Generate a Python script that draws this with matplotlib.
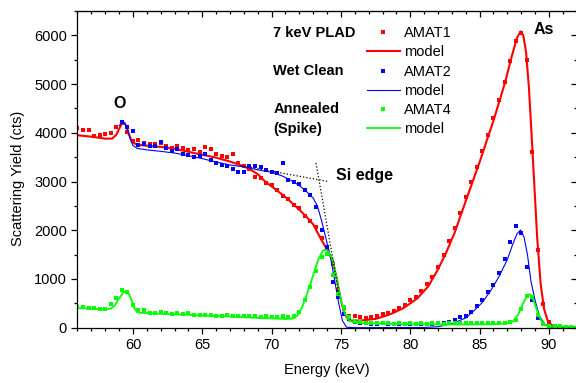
import matplotlib
matplotlib.use("Agg")
import matplotlib.pyplot as plt
from matplotlib.ticker import MultipleLocator

plt.rcParams['font.family'] = ['Liberation Sans', 'DejaVu Sans']

nan = float("nan")

# measured channels (keV)
E_DATA = [56.0, 56.4, 56.8, 57.2, 57.6, 58.0, 58.4, 58.8, 59.2, 59.6,
          60.0, 60.4, 60.8, 61.2, 61.6, 62.0, 62.4, 62.8, 63.2, 63.6,
          64.0, 64.4, 64.8, 65.2, 65.6, 66.0, 66.4, 66.8, 67.2, 67.6,
          68.0, 68.4, 68.8, 69.2, 69.6, 70.0, 70.4, 70.8, 71.2, 71.6,
          72.0, 72.4, 72.8, 73.2, 73.6, 74.0, 74.4, 74.8, 75.2, 75.6,
          76.0, 76.4, 76.8, 77.2, 77.6, 78.0, 78.4, 78.8, 79.2, 79.6,
          80.0, 80.4, 80.8, 81.2, 81.6, 82.0, 82.4, 82.8, 83.2, 83.6,
          84.0, 84.4, 84.8, 85.2, 85.6, 86.0, 86.4, 86.8, 87.2, 87.6,
          88.0, 88.4, 88.8, 89.2, 89.6, 90.0, 90.4, 90.8, 91.2, 91.6]

AMAT1 = [4100, 4060, 4050, 3940, 3950, 3970, 4000, 4120, 4200, 4010,
         3830, 3850, 3800, 3780, 3760, 3790, 3720, 3690, 3720, 3680,
         3650, 3660, 3600, 3700, 3670, 3570, 3520, 3500, 3570, 3380,
         3320, 3260, 3100, 3080, 2970, 2920, 2830, 2700, 2640, 2520,
         2450, 2300, 2180, 2070, 1850, 1620, 1300, 780, 400, 250,
         230, 210, 200, 220, 230, 280, 300, 350, 400, 460,
         560, 640, 760, 900, 1050, 1250, 1500, 1780, 2050, 2350,
         2680, 2980, 3300, 3620, 3950, 4300, 4680, 5050, 5480, 5880,
         6050, 5500, 3600, 1600, 480, 120, 40, 20, 15, 10]

AMAT2 = [nan, nan, nan, nan, nan, nan, nan, nan, 4220, 4120,
         4030, 3740, 3780, 3720, 3720, 3820, 3680, 3620, 3660, 3560,
         3540, 3500, 3530, 3560, 3450, 3390, 3330, 3320, 3250, 3200,
         3190, 3320, 3320, 3300, 3240, 3200, 3180, 3370, 3030, 2990,
         2950, 2820, 2730, 2470, 2000, 1650, 930, 620, 280, 180,
         120, 100, 90, 85, 80, 90, 80, 75, 80, 70,
         75, 70, 80, 80, 85, 90, 100, 120, 150, 210,
         250, 330, 440, 560, 730, 880, 1130, 1420, 1750, 2090,
         1950, 1250, 560, 200, 80, 40, 30, 20, 15, 10]

AMAT4 = [430, 420, 410, 400, 390, 390, 480, 610, 770, 740,
         470, 370, 360, 310, 300, 330, 300, 290, 300, 280,
         300, 270, 270, 260, 270, 250, 250, 260, 240, 250,
         240, 230, 240, 220, 230, 210, 220, 230, 220, 240,
         330, 560, 830, 1170, 1450, 1520, 1080, 700, 420, 210,
         140, 110, 100, 95, 90, 100, 90, 85, 90, 85,
         90, 85, 90, 85, 90, 90, 85, 90, 95, 90,
         90, 95, 90, 95, 90, 95, 90, 100, 110, 160,
         380, 660, 620, 260, 80, 40, 30, 25, 20, 20]

# simulated spectra (model)
E_M1 = [56.0, 57.0, 58.0, 58.5, 58.8, 59.0, 59.2, 59.35, 59.5, 59.7, 59.9, 60.1,
        60.5, 61.0, 62.0, 63.0, 64.0, 65.0, 66.0, 67.0, 68.0, 68.5, 69.0, 69.5,
        70.0, 70.5, 71.0, 71.5, 72.0, 72.5, 73.0, 73.5, 74.0, 74.4, 74.7, 75.0,
        75.25, 75.6, 76.0, 76.5, 77.5, 78.5, 79.5, 80.5, 81.3, 82.0, 82.6, 83.2,
        84.0, 85.0, 86.0, 86.8, 87.3, 87.7, 87.95, 88.15, 88.35, 88.55, 88.75,
        88.95, 89.15, 89.4, 89.65, 89.9, 90.2, 90.6, 92.0]
M1 = [3950, 3920, 3880, 3880, 3960, 4080, 4190, 4210, 4150, 3980, 3830, 3780,
      3750, 3735, 3710, 3670, 3610, 3550, 3490, 3410, 3310, 3240, 3150, 3010,
      2900, 2790, 2680, 2550, 2420, 2280, 2120, 1850, 1600, 1380, 1000, 560,
      280, 145, 145, 150, 180, 270, 400, 600, 850, 1200, 1550, 1950,
      2600, 3400, 4250, 5000, 5550, 5950, 6080, 6000, 5650, 4950, 3950,
      2900, 1850, 900, 380, 150, 50, 20, 15]

E_M2 = [59.0, 59.2, 59.4, 59.6, 59.8, 60.0, 60.3, 61.0, 62.0, 63.0, 64.0, 65.0,
        66.0, 67.0, 68.0, 69.0, 70.0, 70.8, 71.5, 72.0, 72.5, 73.0, 73.3, 73.6,
        73.9, 74.2, 74.5, 74.8, 75.1, 75.4, 76.0, 81.0, 82.0, 83.0, 84.0, 84.6,
        85.2, 85.8, 86.4, 87.0, 87.4, 87.7, 87.95, 88.2, 88.45, 88.7, 89.0, 89.3,
        89.7, 90.2, 92.0]
M2 = [4150, 4200, 4210, 4080, 3880, 3740, 3680, 3650, 3620, 3585, 3530, 3470,
      3400, 3340, 3300, 3240, 3190, 3110, 3010, 2915, 2800, 2660, 2500, 2200,
      1850, 1510, 1050, 560, 150, 10, 0, 5, 20, 80, 200, 350,
      520, 760, 1050, 1400, 1720, 1930, 2005, 1860, 1500, 960, 560, 250,
      70, 10, 0]

E_M4 = [56.0, 57.0, 58.0, 58.4, 58.7, 59.0, 59.3, 59.5, 59.7, 59.9, 60.1, 60.3,
        60.6, 61.0, 62.0, 63.0, 64.0, 65.0, 66.0, 67.0, 68.0, 69.0, 70.0, 71.0,
        71.6, 71.9, 72.2, 72.5, 72.8, 73.1, 73.4, 73.7, 73.9, 74.1, 74.4, 74.7,
        75.0, 75.3, 75.6, 76.0, 78.0, 80.0, 84.0, 86.0, 87.0, 87.4, 87.8, 88.1,
        88.4, 88.6, 88.8, 89.0, 89.2, 89.45, 89.7, 90.0, 92.0]
M4 = [400, 390, 375, 390, 460, 600, 720, 740, 700, 560, 400, 320,
      305, 300, 285, 275, 265, 250, 240, 230, 215, 200, 190, 180,
      190, 260, 420, 650, 900, 1170, 1420, 1580, 1600, 1560, 1400, 1000,
      560, 280, 145, 100, 80, 70, 65, 70, 90, 130, 280, 480,
      640, 690, 630, 470, 300, 145, 60, 25, 15]

# Si surface edge construction (dotted)
BASE_E = [67.8, 74.0]
BASE_Y = [3325, 3005]
EDGE_E = [73.2, 74.9]
EDGE_Y = [3380, 630]

RED, BLUE, GREEN = "#ff0000", "#0000ff", "#00ff00"
FS = 10.5

fig = plt.figure(figsize=(5.76, 3.83), dpi=100)
ax = fig.add_axes([0.1345, 0.1444, 0.8667, 0.8269])

ax.plot(E_DATA, AMAT1, ls='none', marker='s', ms=2.3, mew=0, color=RED, label="AMAT1")
ax.plot(E_M1, M1, color=RED, lw=1.5, label="model")
ax.plot(E_DATA, AMAT2, ls='none', marker='s', ms=2.3, mew=0, color=BLUE, label="AMAT2")
ax.plot(E_M2, M2, color=BLUE, lw=0.8, label="model")
ax.plot(E_DATA, AMAT4, ls='none', marker='s', ms=2.3, mew=0, color=GREEN, label="AMAT4")
ax.plot(E_M4, M4, color=GREEN, lw=1.3, label="model")

ax.plot(BASE_E, BASE_Y, color='k', ls=':', lw=0.9)
ax.plot(EDGE_E, EDGE_Y, color='k', ls=':', lw=0.9)

ax.set_xlim(56, 92)
ax.set_ylim(0, 6500)
ax.xaxis.set_major_locator(MultipleLocator(5))
ax.xaxis.set_minor_locator(MultipleLocator(1))
ax.yaxis.set_major_locator(MultipleLocator(1000))
ax.yaxis.set_minor_locator(MultipleLocator(500))

ax.tick_params(which='both', direction='out', width=0.9, labelsize=FS, colors='k')
ax.tick_params(which='major', length=4.5, pad=3)
ax.tick_params(which='minor', length=2.5)
for s in ax.spines.values():
    s.set_linewidth(0.9)

# top / right: inward ticks, no labels
ax_t = ax.secondary_xaxis('top')
ax_t.xaxis.set_major_locator(MultipleLocator(5))
ax_t.xaxis.set_minor_locator(MultipleLocator(1))
ax_t.tick_params(which='both', direction='in', width=0.9, labeltop=False)
ax_t.tick_params(which='major', length=4)
ax_t.tick_params(which='minor', length=2.5)
ax_r = ax.secondary_yaxis('right')
ax_r.yaxis.set_major_locator(MultipleLocator(1000))
ax_r.yaxis.set_minor_locator(MultipleLocator(500))
ax_r.tick_params(which='both', direction='in', width=0.9, labelright=False)
ax_r.tick_params(which='major', length=4)
ax_r.tick_params(which='minor', length=2.5)

ax.set_xlabel("Energy (keV)", fontsize=FS)
ax.set_ylabel("Scattering Yield (cts)", fontsize=FS)
ax.xaxis.set_label_coords(0.5, -0.111)
ax.yaxis.set_label_coords(-0.106, 0.47)

# annotations
ax.text(59.0, 4600, "O", fontsize=11.5, fontweight='bold', ha='center', va='center')
ax.text(89.6, 6120, "As", fontsize=11.5, fontweight='bold', ha='center', va='center')
ax.text(74.64, 3130, "Si edge", fontsize=11.5, fontweight='bold', ha='left', va='center')

ax.text(70.12, 6046, "7 keV PLAD", fontsize=FS, fontweight='bold', va='center')
ax.text(70.12, 5262, "Wet Clean", fontsize=FS, fontweight='bold', va='center')
ax.text(70.12, 4484, "Annealed", fontsize=FS, fontweight='bold', va='center')
ax.text(70.12, 4088, "(Spike)", fontsize=FS, fontweight='bold', va='center')

ax.legend(loc='upper left', bbox_to_anchor=(0.5793, 0.952), frameon=False,
          borderpad=0, borderaxespad=0, handlelength=2.29, handletextpad=0.27,
          labelspacing=0.36, fontsize=FS, markerscale=1.0)

fig.savefig("out.png", dpi=100)
